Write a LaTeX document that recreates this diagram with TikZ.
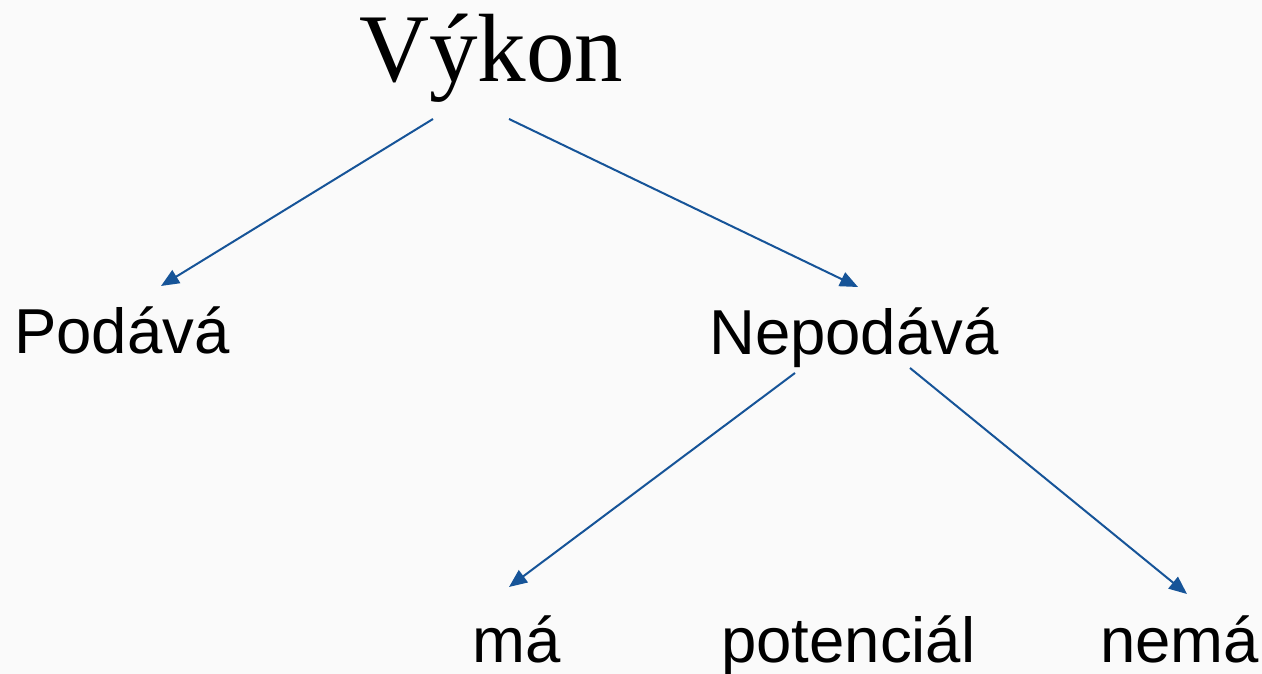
\documentclass[tikz,border=0pt]{standalone}
\usepackage{fontspec}
\setmainfont{Liberation Sans}
\newfontfamily\seriffont{Liberation Serif}
\usetikzlibrary{arrows.meta}
\definecolor{arrowblue}{RGB}{22,84,152}
\definecolor{bgpaper}{RGB}{250,250,250}
\tikzset{
  lbl/.style={anchor=base west, inner sep=0pt, font=\fontsize{63.5}{72}\selectfont},
  conn/.style={draw=arrowblue, line width=2pt, -{Triangle[length=18pt,width=15pt]}}
}
\begin{document}
\begin{tikzpicture}[x=1pt,y=1pt]
\fill[bgpaper] (0,0) rectangle (1262,674);
\useasboundingbox (0,0) rectangle (1262,674);
% y_tikz = 674 - y_image
\node[anchor=base west, inner sep=0pt, font=\seriffont\fontsize{97}{110}\selectfont] (vykon) at (359,592) {Výkon};
\node[lbl] (podava) at (14,320) {Podává};
\node[lbl] (nepodava) at (709,319) {Nepodává};
\node[lbl] (ma) at (472,11) {má};
\node[lbl] (pot) at (721,11) {potenciál};
\node[lbl] (nema) at (1100,11) {nemá};
\coordinate (s1) at (433,555);
\coordinate (e1) at (161,388);
\coordinate (s2) at (509,555);
\coordinate (e2) at (858,387);
\coordinate (s3) at (795,301);
\coordinate (e3) at (509,87);
\coordinate (s4) at (910,306);
\coordinate (e4) at (1187,80);
\draw[conn] (s1) -- (e1);
\draw[conn] (s2) -- (e2);
\draw[conn] (s3) -- (e3);
\draw[conn] (s4) -- (e4);
\end{tikzpicture}
\end{document}
